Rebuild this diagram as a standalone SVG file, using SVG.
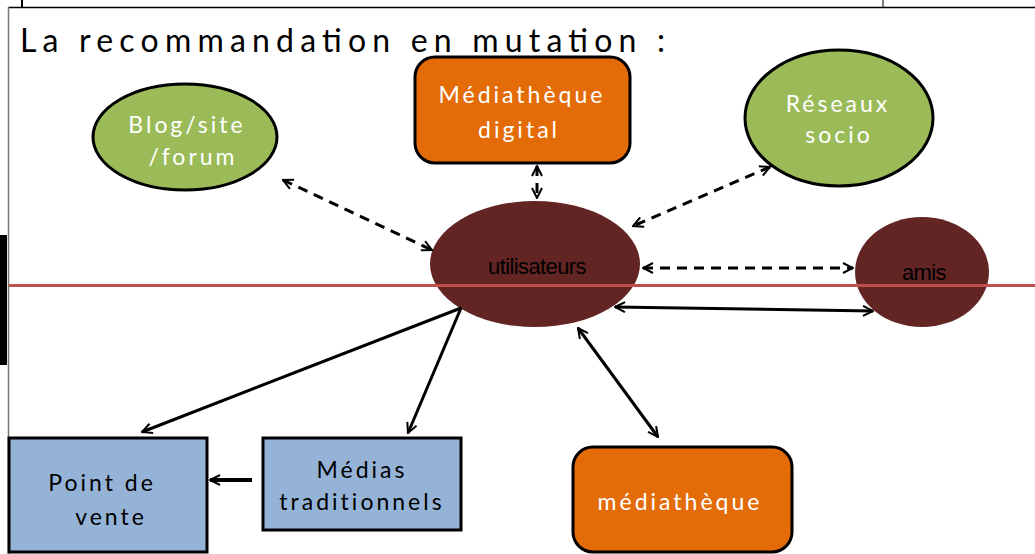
<svg xmlns="http://www.w3.org/2000/svg" width="1035" height="554" viewBox="0 0 1035 554">
<style>
.lbl{font-family:Lato,"Open Sans","Liberation Sans",sans-serif;fill:#fff;font-size:23px;text-anchor:middle;letter-spacing:3px}
.blk{fill:#000}
.dk{font-family:"Liberation Sans",sans-serif;fill:#000;font-size:22px;text-anchor:middle;letter-spacing:-0.6px}
.dash{stroke:#000;stroke-width:3;fill:none;stroke-dasharray:10 7}
.sol{stroke:#000;stroke-width:3;fill:none}
.green{fill:#9BBB59;stroke:#000;stroke-width:3}
.orange{fill:#E36C09;stroke:#000;stroke-width:3}
.blue{fill:#95B3D7;stroke:#000;stroke-width:3}
.maroon{fill:#632523}
</style>
<defs>
<marker id="ah" viewBox="0 0 12 12" refX="11" refY="6" markerWidth="12" markerHeight="12" markerUnits="userSpaceOnUse" orient="auto-start-reverse">
<path d="M1,1 L11,6 L1,11" fill="none" stroke="#000" stroke-width="2"/>
</marker>
</defs>
<rect width="1035" height="554" fill="#fff"/>
<g id="frame">
<line x1="8" y1="7.5" x2="1035" y2="7.5" stroke="#000" stroke-width="1.5"/>
<line x1="8.5" y1="7" x2="8.5" y2="554" stroke="#777" stroke-width="1.5"/>
<line x1="22" y1="0" x2="22" y2="7" stroke="#000" stroke-width="2"/>
<line x1="883" y1="0" x2="883" y2="7" stroke="#000" stroke-width="1"/>
<rect x="0" y="235" width="7" height="130" fill="#000"/>
</g>
<text x="20" y="52" font-family="Lato,'Open Sans',sans-serif" font-size="32" fill="#000" textLength="645" lengthAdjust="spacing">La recommandation en mutation :</text>
<g id="n-utilisateurs"><ellipse class="maroon" cx="535" cy="264" rx="105" ry="63"/><text class="dk" x="537" y="274">utilisateurs</text></g>
<g id="n-amis"><ellipse class="maroon" cx="922" cy="272" rx="67" ry="55"/><text class="dk" x="924" y="280">amis</text></g>
<line id="redline" x1="9" y1="285.5" x2="1035" y2="285.5" stroke="#C0504D" stroke-width="3"/>
<g id="n-blog"><ellipse class="green" cx="185" cy="137" rx="92" ry="53"/><text class="lbl" x="187" y="133">Blog/site</text><text class="lbl" x="193" y="165">/forum</text></g>
<g id="n-medi-digital"><rect class="orange" x="415" y="57" width="215" height="106" rx="20"/><text class="lbl" x="522" y="103">Médiathèque</text><text class="lbl" x="519" y="138">digital</text></g>
<g id="n-reseaux"><ellipse class="green" cx="839" cy="118" rx="94" ry="68"/><text class="lbl" x="838" y="112">Réseaux</text><text class="lbl" x="839" y="143">socio</text></g>
<g id="n-point"><rect class="blue" x="9" y="438" width="198" height="114"/><text class="lbl blk" x="102" y="491">Point de</text><text class="lbl blk" x="111" y="525">vente</text></g>
<g id="n-medias"><rect class="blue" x="263" y="438" width="198" height="92"/><text class="lbl blk" x="362" y="478">Médias</text><text class="lbl blk" x="362" y="510">traditionnels</text></g>
<g id="n-mediatheque"><rect class="orange" x="573" y="447" width="219" height="105" rx="20"/><text class="lbl" x="680" y="510">médiathèque</text></g>
<g id="connectors">
<line class="dash" x1="283" y1="180" x2="432" y2="250" marker-start="url(#ah)" marker-end="url(#ah)"/>
<line class="dash" x1="537" y1="166" x2="537" y2="198" stroke-dasharray="7 5" marker-start="url(#ah)" marker-end="url(#ah)"/>
<line class="dash" x1="770" y1="167" x2="633" y2="226" marker-start="url(#ah)" marker-end="url(#ah)"/>
<line class="dash" x1="643" y1="268" x2="853" y2="268" marker-start="url(#ah)" marker-end="url(#ah)"/>
<line class="sol" x1="615" y1="307" x2="873" y2="311" marker-start="url(#ah)" marker-end="url(#ah)"/>
<line class="sol" x1="461" y1="308" x2="142" y2="432" marker-end="url(#ah)"/>
<line class="sol" x1="461" y1="308" x2="408" y2="433" marker-end="url(#ah)"/>
<line class="sol" x1="578" y1="328" x2="658" y2="437" marker-start="url(#ah)" marker-end="url(#ah)"/>
<line x1="252" y1="480" x2="210" y2="480" stroke="#000" stroke-width="4" marker-end="url(#ah)"/>
</g>
</svg>
